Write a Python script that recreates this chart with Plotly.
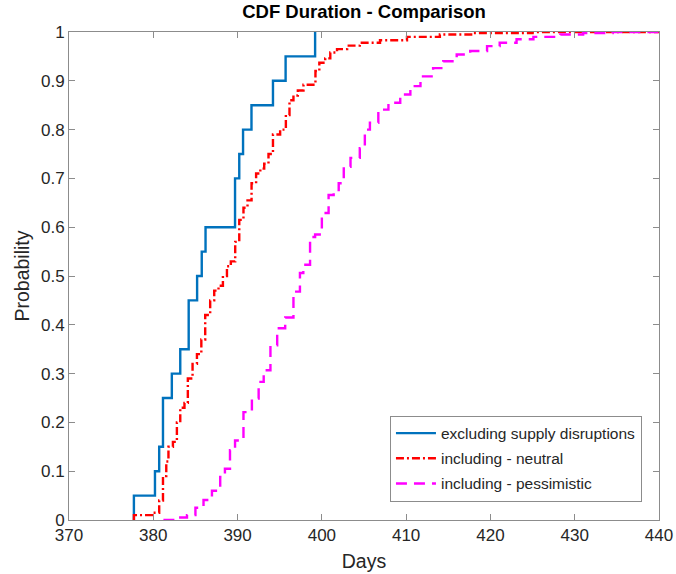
import plotly.graph_objects as go

# ---- data ----
excl_days = [377.7, 377.7, 380.2, 380.7, 381.15, 382.2, 383.2, 384.2, 385.2, 385.75,
             386.2, 389.7, 390.2, 390.65, 391.65, 394.2, 395.7, 399.2]
excl_prob = [0, 0.05, 0.10, 0.15, 0.25, 0.30, 0.35, 0.45, 0.50, 0.55,
             0.60, 0.70, 0.75, 0.80, 0.85, 0.90, 0.95, 1.0]

neut_days = [377.7, 377.7, 380.0, 380.7, 381.15, 381.54, 381.8, 382.33, 382.8, 383.2,
             383.7, 384.1, 384.66, 385.18, 385.7, 386.16, 386.75, 387.23, 387.74, 388.26,
             388.74, 389.2, 389.72, 390.2, 390.7, 391.18, 391.66, 392.2, 392.7, 393.16,
             393.67, 394.2, 395.05, 395.73, 396.16, 396.63, 397.15, 397.82, 399.24, 399.7,
             400.4, 401.0, 401.8, 403.0, 404.5, 406.9, 410.1, 414.0, 418.0, 425.0, 440.0]
neut_prob = [0, 0.01, 0.015, 0.04, 0.09, 0.12, 0.15, 0.16, 0.20, 0.23,
             0.24, 0.29, 0.32, 0.34, 0.37, 0.42, 0.45, 0.47, 0.48, 0.50,
             0.52, 0.53, 0.57, 0.615, 0.64, 0.655, 0.69, 0.71, 0.72, 0.73,
             0.75, 0.79, 0.80, 0.83, 0.86, 0.87, 0.88, 0.892, 0.92, 0.937,
             0.946, 0.958, 0.965, 0.972, 0.978, 0.983, 0.99, 0.995, 0.998, 1.0, 1.0]

pess_days = [381.2, 383.2, 384.0, 385.0, 385.96, 386.96, 387.94, 388.5, 389.1, 389.7,
             390.7, 391.7, 392.5, 393.1, 393.9, 394.7, 395.65, 396.63, 397.4, 397.8,
             398.6, 399.2, 400.0, 400.8, 401.4, 402.0, 402.6, 403.4, 404.5, 405.1,
             405.7, 406.7, 407.9, 409.3, 410.5, 411.7, 413.2, 414.4, 416.0, 417.6,
             419.6, 421.1, 423.1, 425.1, 428.3, 431.0, 434.5, 440.0]
pess_prob = [0, 0.005, 0.01, 0.025, 0.041, 0.06, 0.088, 0.105, 0.143, 0.163,
             0.221, 0.249, 0.283, 0.307, 0.358, 0.393, 0.415, 0.468, 0.506, 0.523,
             0.58, 0.585, 0.629, 0.666, 0.67, 0.69, 0.724, 0.742, 0.762, 0.80,
             0.814, 0.841, 0.855, 0.872, 0.889, 0.909, 0.926, 0.94, 0.954, 0.961,
             0.971, 0.978, 0.985, 0.99, 0.995, 0.998, 1.0, 1.0]

x_ticks = [370, 380, 390, 400, 410, 420, 430, 440]
y_ticks = [0, 0.1, 0.2, 0.3, 0.4, 0.5, 0.6, 0.7, 0.8, 0.9, 1]
y_tick_labels = ["0", "0.1", "0.2", "0.3", "0.4", "0.5", "0.6", "0.7", "0.8", "0.9", "1"]

FONT = "Liberation Sans, Arial, sans-serif"
AXC = "#8c8c8c"
TXT = "#262626"

W, H = 676, 574

fig = go.Figure()
fig.add_trace(go.Scatter(x=excl_days, y=excl_prob, mode="lines", line_shape="hv",
                         name="excluding supply disruptions", legendgroup="a",
                         line=dict(color="#0072BD", width=2.4)))
fig.add_trace(go.Scatter(x=neut_days, y=neut_prob, mode="lines", line_shape="hv",
                         name="including - neutral", legendgroup="b",
                         line=dict(color="#FF0000", width=2.4, dash="8px,3px,2px,3px")))
fig.add_trace(go.Scatter(x=pess_days, y=pess_prob, mode="lines", line_shape="hv",
                         name="including - pessimistic", legendgroup="c",
                         line=dict(color="#FF00FF", width=2.4, dash="11px,7px")))

fig.update_layout(
    width=W, height=H,
    margin=dict(l=69, r=17, t=32, b=54),
    paper_bgcolor="white", plot_bgcolor="white",
    font=dict(family=FONT, size=17, color=TXT),
    title=dict(text="<b>CDF Duration - Comparison</b>", x=(69 + (W - 17)) / 2 / W, xanchor="center",
               y=1 - 12 / H, yanchor="middle", font=dict(size=18.5, color="black", family=FONT)),
    showlegend=True,
    legend=dict(x=0.544, y=0.214, xanchor="left", yanchor="top",
                bgcolor="white", bordercolor="#8c8c8c", borderwidth=1,
                font=dict(size=15.5, color=TXT, family=FONT),
                traceorder="grouped", tracegroupgap=2, itemwidth=40),
)
fig.update_xaxes(range=[370, 440], tickvals=x_ticks, ticks="inside", ticklen=6,
                 tickcolor=AXC, showline=True, linecolor=AXC, linewidth=1, mirror="ticks",
                 showgrid=False, zeroline=False, automargin=False,
                 title=dict(text="Days", font=dict(size=19.5, color=TXT), standoff=9),
                 tickfont=dict(size=17, color=TXT))
fig.update_yaxes(range=[0, 1], tickvals=y_ticks, ticktext=y_tick_labels, ticks="inside", ticklen=6,
                 tickcolor=AXC, showline=True, linecolor=AXC, linewidth=1, mirror="ticks",
                 showgrid=False, zeroline=False, automargin=False,
                 title=dict(text="Probability", font=dict(size=19.5, color=TXT), standoff=6),
                 tickfont=dict(size=17, color=TXT))

# remove the default 8px page margin so the figure fills the window exactly
fig.write_html("out.html", config={"displayModeBar": False},
               post_script="document.body.style.margin='0';document.body.style.overflow='hidden';")
